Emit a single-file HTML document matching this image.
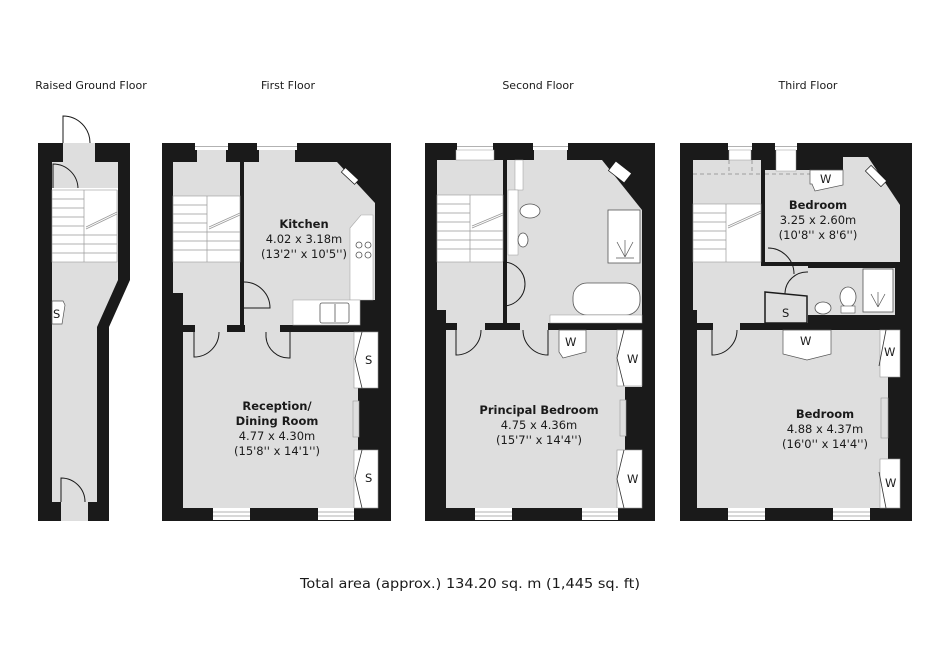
<!DOCTYPE html>
<html><head><meta charset="utf-8"><style>
html,body{margin:0;padding:0;background:#fff;}
svg{display:block;}
text{font-family:"DejaVu Sans","Liberation Sans",sans-serif;fill:#1a1a1a;}
.t{font-size:11px;}
.b{font-size:11.5px;font-weight:bold;}
.r{font-size:11.5px;}
</style></head><body>
<svg width="940" height="664" viewBox="0 0 940 664" xmlns="http://www.w3.org/2000/svg">
<!-- titles -->
<text class="t" x="91" y="89" text-anchor="middle">Raised Ground Floor</text>
<text class="t" x="288" y="89" text-anchor="middle">First Floor</text>
<text class="t" x="538" y="89" text-anchor="middle">Second Floor</text>
<text class="t" x="808" y="89" text-anchor="middle">Third Floor</text>

<!-- ========== RAISED GROUND ========== -->
<polygon points="38,143 130,143 130,280 109,327 109,521 38,521" fill="#1a1a1a"/>
<rect x="63" y="143" width="32" height="20" fill="#dedede"/>
<polygon points="52,162 118,162 118,280 97,327 97,502 88,502 88,521 61,521 61,502 52,502" fill="#dedede"/>
<path d="M63,143 L63,116 A27,27 0 0 1 90,143" fill="none" stroke="#1a1a1a" stroke-width="1"/>
<path d="M53,188 L53,164 A25,25 0 0 1 78,189" fill="none" stroke="#1a1a1a" stroke-width="1"/>
<rect x="52" y="188" width="66" height="2" fill="#fff"/>
<rect x="52" y="190" width="65" height="72" fill="#fff" stroke="#999" stroke-width="0.6"/>
<g stroke="#999" stroke-width="0.7">
<line x1="84" y1="190" x2="84" y2="262"/>
<line x1="52" y1="199" x2="84" y2="199"/><line x1="52" y1="208" x2="84" y2="208"/><line x1="52" y1="217" x2="84" y2="217"/><line x1="52" y1="226" x2="84" y2="226"/><line x1="52" y1="235" x2="84" y2="235"/><line x1="52" y1="244" x2="84" y2="244"/><line x1="52" y1="253" x2="84" y2="253"/>
<line x1="84" y1="235" x2="117" y2="235"/><line x1="84" y1="244" x2="117" y2="244"/><line x1="84" y1="253" x2="117" y2="253"/>
<line x1="86" y1="227" x2="117" y2="212"/><line x1="86" y1="229" x2="117" y2="214"/>
</g>
<polygon points="52,301 63,301 65,305 62,324 52,324" fill="#fff" stroke="#555" stroke-width="0.7"/>
<text class="r" x="53" y="318">S</text>
<path d="M61,502 L61,478 A24,24 0 0 1 85,502" fill="none" stroke="#1a1a1a" stroke-width="1"/>

<!-- ========== FIRST FLOOR ========== -->
<rect x="162" y="143" width="229" height="378" fill="#1a1a1a"/>
<polygon points="173,162 240,162 240,325 183,325 183,293 173,293" fill="#dedede"/>
<polygon points="244,162 337,162 375,203 375,300 360,300 360,325 244,325" fill="#dedede"/>
<rect x="183" y="332" width="195" height="176" fill="#dedede"/>
<rect x="195" y="324" width="32" height="9" fill="#dedede"/>
<rect x="245" y="324" width="35" height="9" fill="#dedede"/>
<rect x="195" y="143" width="33" height="7" fill="#fff"/><line x1="195" y1="146.5" x2="228" y2="146.5" stroke="#999" stroke-width="0.7"/>
<rect x="197" y="150" width="29" height="12" fill="#dedede"/>
<rect x="257" y="143" width="40" height="7" fill="#fff"/><line x1="257" y1="146.5" x2="297" y2="146.5" stroke="#999" stroke-width="0.7"/>
<rect x="259" y="150" width="36" height="12" fill="#dedede"/>
<rect x="173" y="196" width="67" height="66" fill="#fff" stroke="#999" stroke-width="0.6"/>
<g stroke="#999" stroke-width="0.7">
<line x1="207" y1="196" x2="207" y2="262"/>
<line x1="173" y1="205" x2="207" y2="205"/><line x1="173" y1="214" x2="207" y2="214"/><line x1="173" y1="223" x2="207" y2="223"/><line x1="173" y1="232" x2="207" y2="232"/><line x1="173" y1="241" x2="207" y2="241"/><line x1="173" y1="250" x2="207" y2="250"/>
<line x1="207" y1="232" x2="240" y2="232"/><line x1="207" y1="241" x2="240" y2="241"/><line x1="207" y1="250" x2="240" y2="250"/>
<line x1="209" y1="227" x2="240" y2="213"/><line x1="209" y1="229" x2="240" y2="215"/>
</g>
<path d="M244,282 A26,26 0 0 1 270,308 L244,308" fill="none" stroke="#1a1a1a" stroke-width="1"/>
<polygon points="350,228 361,215 373,215 373,300 350,300" fill="#fff" stroke="#aaa" stroke-width="0.6"/>
<rect x="293" y="300" width="67" height="25" fill="#fff" stroke="#aaa" stroke-width="0.6"/>
<g fill="none" stroke="#555" stroke-width="0.8">
<circle cx="359" cy="245" r="3"/><circle cx="368" cy="245" r="3"/><circle cx="359" cy="255" r="3"/><circle cx="368" cy="255" r="3"/>
<rect x="320" y="303" width="29" height="20" rx="2"/><line x1="335" y1="304" x2="335" y2="322"/>
</g>
<rect x="341" y="173" width="18" height="6" fill="#fff" stroke="#1a1a1a" stroke-width="0.7" transform="rotate(43 350 176)"/>
<path d="M194,332 L194,357 A25,25 0 0 0 219,332" fill="none" stroke="#1a1a1a" stroke-width="1"/>
<path d="M266,332 L266,337 A23,23 0 0 0 290,358 L290,332" fill="none" stroke="#1a1a1a" stroke-width="1"/>
<rect x="358" y="388" width="20" height="62" fill="#1a1a1a"/>
<rect x="353" y="401" width="6" height="36" fill="#dedede" stroke="#999" stroke-width="0.6"/>
<rect x="354" y="332" width="24" height="56" fill="#fff" stroke="#999" stroke-width="0.6"/>
<polyline points="362,332 355,359 362,388" fill="none" stroke="#333" stroke-width="0.8"/>
<text class="r" x="365" y="364">S</text>
<rect x="354" y="450" width="24" height="58" fill="#fff" stroke="#999" stroke-width="0.6"/>
<polyline points="362,450 355,478 362,508" fill="none" stroke="#333" stroke-width="0.8"/>
<text class="r" x="365" y="482">S</text>
<rect x="213" y="508" width="37" height="12" fill="#fff"/><line x1="213" y1="512" x2="250" y2="512" stroke="#999" stroke-width="0.7"/><line x1="213" y1="516" x2="250" y2="516" stroke="#999" stroke-width="0.7"/>
<rect x="318" y="508" width="36" height="12" fill="#fff"/><line x1="318" y1="512" x2="354" y2="512" stroke="#999" stroke-width="0.7"/><line x1="318" y1="516" x2="354" y2="516" stroke="#999" stroke-width="0.7"/>
<text class="b" x="304" y="228" text-anchor="middle">Kitchen</text>
<text class="r" x="304" y="243" text-anchor="middle">4.02 x 3.18m</text>
<text class="r" x="304" y="258" text-anchor="middle">(13'2'' x 10'5'')</text>
<text class="b" x="277" y="410" text-anchor="middle">Reception/</text>
<text class="b" x="277" y="425" text-anchor="middle">Dining Room</text>
<text class="r" x="277" y="440" text-anchor="middle">4.77 x 4.30m</text>
<text class="r" x="277" y="455" text-anchor="middle">(15'8'' x 14'1'')</text>

<!-- ========== SECOND FLOOR ========== -->
<rect x="425" y="143" width="230" height="378" fill="#1a1a1a"/>
<polygon points="437,160 503,160 503,323 446,323 446,310 437,310" fill="#dedede"/>
<polygon points="507,160 602,160 642,210 642,323 507,323" fill="#dedede"/>
<rect x="446" y="330" width="196" height="178" fill="#dedede"/>
<rect x="457" y="322" width="28" height="9" fill="#dedede"/>
<rect x="520" y="322" width="28" height="9" fill="#dedede"/>
<rect x="457" y="143" width="36" height="7" fill="#fff"/><line x1="457" y1="146.5" x2="493" y2="146.5" stroke="#999" stroke-width="0.7"/>
<rect x="456" y="150" width="38" height="10" fill="#fff" stroke="#999" stroke-width="0.5"/>
<rect x="533" y="143" width="35" height="7" fill="#fff"/><line x1="533" y1="146.5" x2="568" y2="146.5" stroke="#999" stroke-width="0.7"/>
<rect x="534" y="150" width="33" height="10" fill="#dedede"/>
<rect x="437" y="195" width="66" height="67" fill="#fff" stroke="#999" stroke-width="0.6"/>
<g stroke="#999" stroke-width="0.7">
<line x1="470" y1="195" x2="470" y2="262"/>
<line x1="437" y1="204" x2="470" y2="204"/><line x1="437" y1="213" x2="470" y2="213"/><line x1="437" y1="222" x2="470" y2="222"/><line x1="437" y1="231" x2="470" y2="231"/><line x1="437" y1="240" x2="470" y2="240"/><line x1="437" y1="249" x2="470" y2="249"/>
<line x1="470" y1="231" x2="503" y2="231"/><line x1="470" y1="240" x2="503" y2="240"/><line x1="470" y1="249" x2="503" y2="249"/>
<line x1="472" y1="226" x2="503" y2="213"/><line x1="472" y1="228" x2="503" y2="215"/>
</g>
<rect x="515" y="160" width="8" height="30" fill="#fff" stroke="#999" stroke-width="0.5"/>
<rect x="508" y="190" width="10" height="65" fill="#fff" stroke="#999" stroke-width="0.5"/>
<ellipse cx="530" cy="211" rx="10" ry="7" fill="#fff" stroke="#555" stroke-width="0.8"/>
<ellipse cx="523" cy="240" rx="5" ry="7" fill="#fff" stroke="#555" stroke-width="0.8"/>
<rect x="608" y="210" width="32" height="53" fill="#fff" stroke="#555" stroke-width="0.8"/>
<g stroke="#555" stroke-width="0.7"><line x1="625" y1="257" x2="617" y2="242"/><line x1="625" y1="257" x2="625" y2="240"/><line x1="625" y1="257" x2="633" y2="242"/><line x1="616" y1="258" x2="634" y2="258"/></g>
<rect x="573" y="283" width="67" height="32" rx="14" fill="#fff" stroke="#555" stroke-width="0.8"/>
<rect x="550" y="315" width="92" height="8" fill="#fff" stroke="#999" stroke-width="0.5"/>
<rect x="610" y="166" width="20" height="12" fill="#fff" stroke="#1a1a1a" stroke-width="0.7" transform="rotate(38 620 172)"/>
<path d="M503,306 A22,22 0 0 0 503,262" fill="none" stroke="#1a1a1a" stroke-width="1"/>
<path d="M456,330 L456,355 A25,25 0 0 0 481,330" fill="none" stroke="#1a1a1a" stroke-width="1"/>
<path d="M548,330 L548,355 A25,25 0 0 1 523,330" fill="none" stroke="#1a1a1a" stroke-width="1"/>
<rect x="625" y="387" width="17" height="63" fill="#1a1a1a"/>
<rect x="620" y="400" width="6" height="36" fill="#dedede" stroke="#999" stroke-width="0.6"/>
<rect x="617" y="330" width="25" height="56" fill="#fff" stroke="#999" stroke-width="0.6"/>
<polyline points="624,330 617,358 624,386" fill="none" stroke="#333" stroke-width="0.8"/>
<text class="r" x="627" y="363">W</text>
<rect x="617" y="450" width="25" height="58" fill="#fff" stroke="#999" stroke-width="0.6"/>
<polyline points="624,450 617,479 624,508" fill="none" stroke="#333" stroke-width="0.8"/>
<text class="r" x="627" y="483">W</text>
<polygon points="559,330 586,330 586,352 563,358 559,352" fill="#fff" stroke="#555" stroke-width="0.7"/>
<text class="r" x="565" y="346">W</text>
<rect x="475" y="508" width="37" height="12" fill="#fff"/><line x1="475" y1="512" x2="512" y2="512" stroke="#999" stroke-width="0.7"/><line x1="475" y1="516" x2="512" y2="516" stroke="#999" stroke-width="0.7"/>
<rect x="582" y="508" width="36" height="12" fill="#fff"/><line x1="582" y1="512" x2="618" y2="512" stroke="#999" stroke-width="0.7"/><line x1="582" y1="516" x2="618" y2="516" stroke="#999" stroke-width="0.7"/>
<text class="b" x="539" y="414" text-anchor="middle">Principal Bedroom</text>
<text class="r" x="539" y="429" text-anchor="middle">4.75 x 4.36m</text>
<text class="r" x="539" y="444" text-anchor="middle">(15'7'' x 14'4'')</text>

<!-- ========== THIRD FLOOR ========== -->
<rect x="680" y="143" width="232" height="378" fill="#1a1a1a"/>
<polygon points="693,160 761,160 761,266 808,266 808,323 697,323 697,310 693,310" fill="#dedede"/>
<polygon points="765,170 843,170 843,157 868,157 900,205 900,262 765,262" fill="#dedede"/>
<rect x="808" y="268" width="87" height="47" fill="#dedede"/>
<rect x="697" y="330" width="203" height="178" fill="#dedede"/>
<rect x="713" y="322" width="27" height="9" fill="#dedede"/>
<rect x="728" y="143" width="24" height="7" fill="#fff"/><line x1="728" y1="146.5" x2="752" y2="146.5" stroke="#999" stroke-width="0.7"/>
<rect x="729" y="150" width="22" height="10" fill="#fff" stroke="#999" stroke-width="0.5"/>
<rect x="775" y="143" width="22" height="7" fill="#fff"/><line x1="775" y1="146.5" x2="797" y2="146.5" stroke="#999" stroke-width="0.7"/>
<rect x="776" y="150" width="20" height="21" fill="#fff" stroke="#999" stroke-width="0.5"/>
<g stroke="#888" stroke-width="0.8" stroke-dasharray="4,3" fill="none">
<line x1="693" y1="174" x2="761" y2="174"/><line x1="729" y1="160" x2="729" y2="174"/><line x1="752" y1="160" x2="752" y2="174"/>
<line x1="765" y1="174" x2="810" y2="174"/>
</g>
<rect x="693" y="204" width="68" height="58" fill="#fff" stroke="#999" stroke-width="0.6"/>
<g stroke="#999" stroke-width="0.7">
<line x1="726" y1="204" x2="726" y2="262"/>
<line x1="693" y1="213" x2="726" y2="213"/><line x1="693" y1="222" x2="726" y2="222"/><line x1="693" y1="231" x2="726" y2="231"/><line x1="693" y1="240" x2="726" y2="240"/><line x1="693" y1="249" x2="726" y2="249"/>
<line x1="728" y1="226" x2="761" y2="211"/><line x1="728" y1="228" x2="761" y2="213"/>
</g>
<polygon points="810,170 843,170 843,185 815,191 812,184 810,184" fill="#fff" stroke="#555" stroke-width="0.7"/>
<text class="r" x="820" y="183">W</text>
<rect x="865" y="172" width="22" height="8" fill="#fff" stroke="#1a1a1a" stroke-width="0.7" transform="rotate(45 876 176)"/>
<path d="M768,248 A26,26 0 0 1 794,274" fill="none" stroke="#1a1a1a" stroke-width="1"/>
<path d="M808,272 A22,22 0 0 0 806,316" fill="none" stroke="#1a1a1a" stroke-width="1"/>
<polygon points="765,292 807,296 807,323 765,323" fill="#dedede" stroke="#1a1a1a" stroke-width="1.5"/>
<text class="r" x="782" y="317">S</text>
<rect x="863" y="269" width="30" height="43" fill="#fff" stroke="#555" stroke-width="0.8"/>
<g stroke="#555" stroke-width="0.7"><line x1="878" y1="307" x2="871" y2="294"/><line x1="878" y1="307" x2="878" y2="292"/><line x1="878" y1="307" x2="885" y2="294"/></g>
<ellipse cx="848" cy="297" rx="8" ry="10" fill="#fff" stroke="#555" stroke-width="0.8"/>
<rect x="841" y="306" width="14" height="7" fill="#fff" stroke="#555" stroke-width="0.6"/>
<ellipse cx="823" cy="308" rx="8" ry="6" fill="#fff" stroke="#555" stroke-width="0.8"/>
<path d="M712,330 L712,355 A25,25 0 0 0 737,330" fill="none" stroke="#1a1a1a" stroke-width="1"/>
<rect x="888" y="377" width="12" height="83" fill="#1a1a1a"/>
<rect x="881" y="398" width="7" height="40" fill="#dedede" stroke="#999" stroke-width="0.6"/>
<rect x="880" y="330" width="20" height="47" fill="#fff" stroke="#999" stroke-width="0.6"/>
<polyline points="886,330 879,366" fill="none" stroke="#333" stroke-width="0.8"/>
<text class="r" x="884" y="356">W</text>
<rect x="880" y="459" width="20" height="49" fill="#fff" stroke="#999" stroke-width="0.6"/>
<polyline points="879,472 886,508" fill="none" stroke="#333" stroke-width="0.8"/>
<text class="r" x="885" y="487">W</text>
<polygon points="783,330 831,330 831,354 807,360 783,354" fill="#fff" stroke="#555" stroke-width="0.7"/>
<text class="r" x="800" y="345">W</text>
<rect x="728" y="508" width="37" height="12" fill="#fff"/><line x1="728" y1="512" x2="765" y2="512" stroke="#999" stroke-width="0.7"/><line x1="728" y1="516" x2="765" y2="516" stroke="#999" stroke-width="0.7"/>
<rect x="833" y="508" width="37" height="12" fill="#fff"/><line x1="833" y1="512" x2="870" y2="512" stroke="#999" stroke-width="0.7"/><line x1="833" y1="516" x2="870" y2="516" stroke="#999" stroke-width="0.7"/>
<text class="b" x="818" y="209" text-anchor="middle">Bedroom</text>
<text class="r" x="818" y="224" text-anchor="middle">3.25 x 2.60m</text>
<text class="r" x="818" y="239" text-anchor="middle">(10'8'' x 8'6'')</text>
<text class="b" x="825" y="418" text-anchor="middle">Bedroom</text>
<text class="r" x="825" y="433" text-anchor="middle">4.88 x 4.37m</text>
<text class="r" x="825" y="448" text-anchor="middle">(16'0'' x 14'4'')</text>

<text x="470" y="588" text-anchor="middle" style="font-size:13.5px" textLength="340" lengthAdjust="spacingAndGlyphs">Total area (approx.) 134.20 sq. m (1,445 sq. ft)</text>
</svg>
</body></html>
